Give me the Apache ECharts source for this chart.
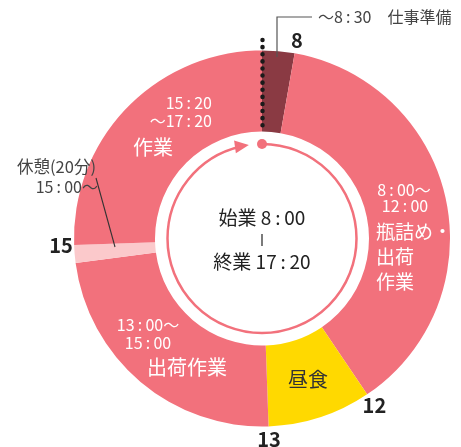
<!DOCTYPE html>
<html><head><meta charset="utf-8">
<script src="https://cdn.jsdelivr.net/npm/echarts@6/dist/echarts.min.js"></script>
<style>html,body{margin:0;padding:0;background:#fff}#c{width:461px;height:447px}</style>
</head><body><div id="c"></div>
<script>
// Slices of the working day (angular share, degrees)
const sliceNames = ['仕事準備', '瓶詰め・出荷作業', '昼食', '出荷作業', '休憩', '作業'];
const sliceValues = [10, 136, 32, 84.5, 5.5, 92];
// Hour tick labels and the slice index at whose start they sit
const hourLabels = ['8', '12', '13', '15'];
const hourAtSlice = [1, 2, 3, 5];

const colors = ['#8a3a43', '#f2717c', '#ffd900', '#f2717c', '#fbc9cb', '#f2717c'];
const CX = 262, CY = 238.5, R0 = 107, R1 = 188;
const FF = '"Noto Sans CJK JP", "Noto Sans", sans-serif';
const C = '\u2009:\u2009';

const total = sliceValues.reduce((a, b) => a + b, 0);
const startAng = [];
let acc = 0;
sliceValues.forEach(v => { startAng.push(acc / total * 360); acc += v; });

function polar(angDeg, r) {
  const a = angDeg * Math.PI / 180;
  return [CX + r * Math.sin(a), CY - r * Math.cos(a)];
}

const g = [];
function txt(x, y, text, size, fill, align, weight) {
  g.push({ type: 'text', x: x, y: y, z: 100,
    style: { text: text, fontSize: size, fontFamily: FF, fill: fill, align: align || 'center',
      verticalAlign: 'middle', fontWeight: weight || 'normal' } });
}

// hour labels
hourLabels.forEach((h, i) => {
  const p = polar(startAng[hourAtSlice[i]], 201);
  txt(p[0], p[1], h, 20, '#222', 'center', 'bold');
});

// start dotted line
g.push({ type: 'line', z: 100, shape: { x1: CX + 0.5, y1: 40, x2: CX + 0.5, y2: 131 },
  style: { stroke: '#1a1a1a', lineWidth: 4.5, lineDash: [0.1, 7], lineCap: 'round' } });

// inner thin circle (arc) with arrow and dot
const arcEnd = -13;
g.push({ type: 'arc', z: 100, shape: { cx: CX, cy: CY, r: 94.5,
  startAngle: -Math.PI / 2, endAngle: -Math.PI / 2 + (360 + arcEnd) * Math.PI / 180, clockwise: true },
  style: { stroke: '#f2717c', lineWidth: 2.5, fill: null } });
(function () {
  const tipA = -8;
  const tip = polar(tipA, 94.5);
  const t = tipA * Math.PI / 180;
  const d = [Math.cos(t), Math.sin(t)], n = [-Math.sin(t), Math.cos(t)];
  const b = [tip[0] - 14 * d[0], tip[1] - 14 * d[1]];
  g.push({ type: 'polygon', z: 100, shape: { points: [tip,
    [b[0] + 6.5 * n[0], b[1] + 6.5 * n[1]], [b[0] - 6.5 * n[0], b[1] - 6.5 * n[1]]] },
    style: { fill: '#f2717c' } });
})();
g.push({ type: 'circle', z: 100, shape: { cx: CX, cy: 144, r: 5 }, style: { fill: '#f2717c' } });

// center text
txt(CX, 218, '始業 8' + C + '00', 19, '#222');
g.push({ type: 'line', z: 100, shape: { x1: CX, y1: 234, x2: CX, y2: 246 }, style: { stroke: '#333', lineWidth: 1.3 } });
txt(CX, 262, '終業 17' + C + '20', 19, '#222');

// slice labels
txt(404, 190, '8' + C + '00〜', 16, '#fff');
txt(405, 206, '12' + C + '00', 16, '#fff');
txt(376, 232, '瓶詰め・', 19, '#fff', 'left');
txt(376, 257, '出荷', 19, '#fff', 'left');
txt(376, 282, '作業', 19, '#fff', 'left');

txt(148, 325, '13' + C + '00〜', 16, '#fff');
txt(148, 343, '15' + C + '00', 16, '#fff');
txt(147, 367, '出荷作業', 20, '#fff', 'left');

txt(212, 103, '15' + C + '20', 16, '#fff', 'right');
txt(212, 121, '〜17' + C + '20', 16, '#fff', 'right');
txt(133, 147, '作業', 20, '#fff', 'left');

txt(308, 379, '昼食', 20, '#333');

// annotations
g.push({ type: 'polyline', z: 100, shape: { points: [[277, 57], [277, 17], [312, 17]] },
  style: { stroke: '#555', lineWidth: 1.2, fill: null } });
txt(318, 17, '〜8' + C + '30　仕事準備', 16, '#444', 'left');
g.push({ type: 'line', z: 100, shape: { x1: 96, y1: 178, x2: 115, y2: 247 }, style: { stroke: '#333', lineWidth: 1.1 } });
txt(96, 167, '休憩(20分)', 16.5, '#444', 'right');
txt(98, 187, '15' + C + '00〜', 16, '#444', 'right');

const chart = echarts.init(document.getElementById('c'));
chart.setOption({
  animation: false,
  series: [{
    type: 'pie', center: [CX, CY], radius: [R0, R1], startAngle: 90, clockwise: true,
    label: { show: false }, labelLine: { show: false }, silent: true,
    emphasis: { disabled: true },
    itemStyle: { borderWidth: 0 },
    data: sliceNames.map((n, i) => ({ name: n, value: sliceValues[i], itemStyle: { color: colors[i] } }))
  }],
  graphic: g
});
</script></body></html>
